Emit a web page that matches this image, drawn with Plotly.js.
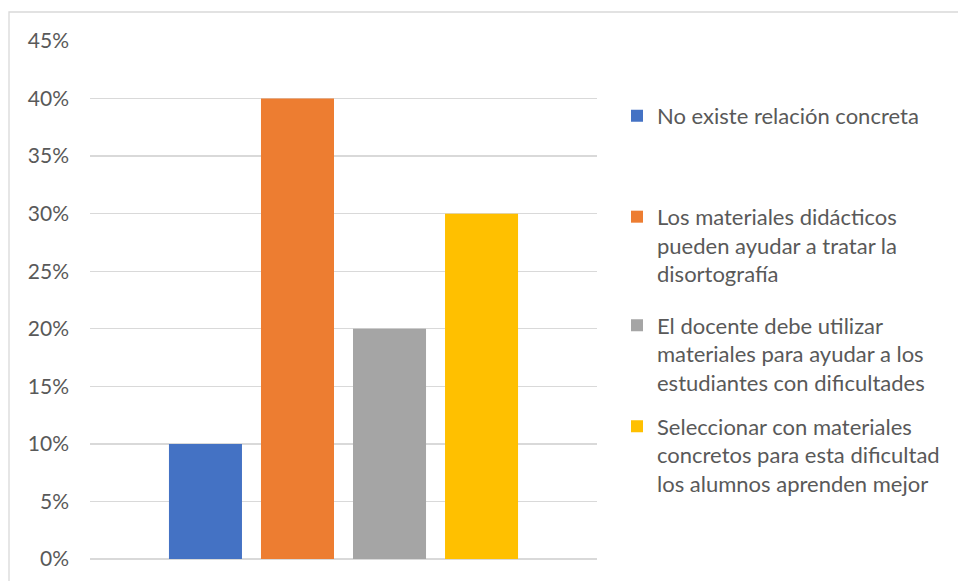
<!DOCTYPE html>
<html>
<head>
<meta charset="utf-8">
<script src="https://cdn.plot.ly/plotly-3.0.1.min.js"></script>
<style>html,body{margin:0;padding:0;background:#fff;}#chart{width:958px;height:581px;}</style>
</head>
<body>
<div id="chart"></div>
<script>
var seriesNames = [
  "No existe relación concreta",
  "Los materiales didácticos<br>pueden ayudar a tratar la<br>disortografía",
  "El docente debe utilizar<br>materiales para ayudar a los<br>estudiantes con dificultades",
  "Seleccionar con materiales<br>concretos para esta dificultad<br>los alumnos aprenden mejor"
];
var seriesValues = [0.10, 0.40, 0.20, 0.30];
var seriesColors = ["#4472C4", "#ED7D31", "#A5A5A5", "#FFC000"];
var category = [""];
var yTickVals = [0, 0.05, 0.10, 0.15, 0.20, 0.25, 0.30, 0.35, 0.40, 0.45];

var legendIds = ["legend", "legend2", "legend3", "legend4"];
var legendY = [0.896, 0.701, 0.4915, 0.2965];

var traces = seriesNames.map(function (n, i) {
  return {
    type: "bar",
    x: category,
    y: [seriesValues[i]],
    name: n,
    marker: {color: seriesColors[i]},
    legend: legendIds[i],
    hoverinfo: "skip"
  };
});

var tickFont = {family: "Lato, 'Open Sans', sans-serif", size: 21, color: "#595959"};
var legFont = {family: "Lato, 'Open Sans', sans-serif", size: 22, color: "#595959"};

var layout = {
  width: 958, height: 581,
  margin: {l: 90, r: 361, t: 41, b: 22},
  paper_bgcolor: "#ffffff",
  plot_bgcolor: "#ffffff",
  font: tickFont,
  barmode: "group",
  bargap: 0.274,
  bargroupgap: 0.2065,
  showlegend: true,
  xaxis: {showticklabels: false, ticks: "", showgrid: false, zeroline: false, showline: false},
  yaxis: {
    range: [0, 0.45],
    tickvals: yTickVals,
    tickformat: ".0%",
    showgrid: true, gridcolor: "#d9d9d9", gridwidth: 1.3,
    zeroline: true, zerolinecolor: "#d9d9d9", zerolinewidth: 1.3,
    showline: false, ticks: "",
    ticklabelstandoff: 20,
    tickfont: tickFont
  },
  shapes: [{
    type: "rect", xref: "paper", yref: "paper",
    x0: (9 - 90) / 507, x1: (962 - 90) / 507,
    y0: (559 - 600) / 518, y1: (559 - 12) / 518,
    line: {color: "#d9d9d9", width: 1.3}, fillcolor: "rgba(0,0,0,0)", layer: "below"
  }]
};
legendIds.forEach(function (id, i) {
  layout[id] = {
    x: (617 - 90) / 507, y: legendY[i], xanchor: "left", yanchor: "top",
    valign: "top",
    bgcolor: "rgba(0,0,0,0)", font: legFont, itemclick: false, itemdoubleclick: false
  };
});

Plotly.newPlot("chart", traces, layout, {staticPlot: true});
</script>
</body>
</html>
